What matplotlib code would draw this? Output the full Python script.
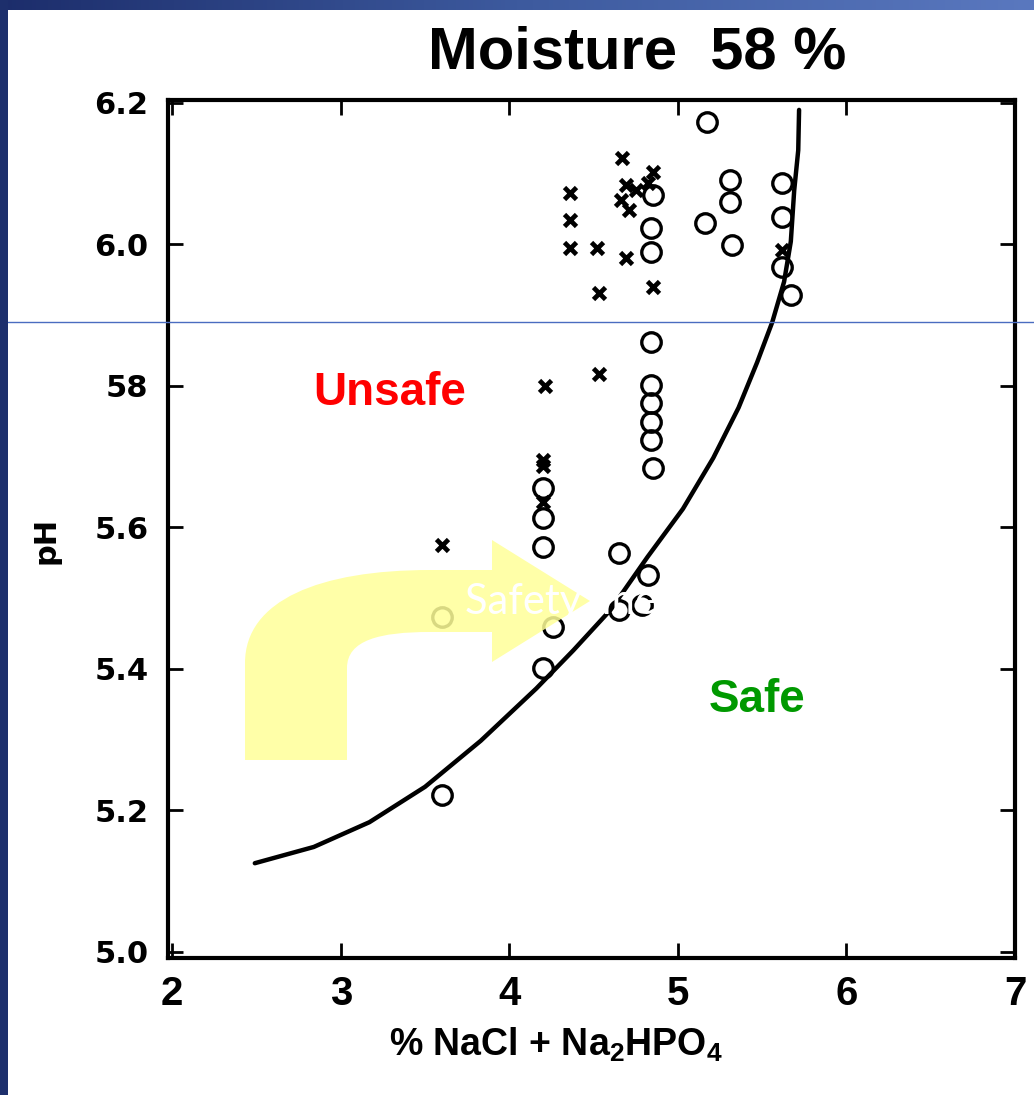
import numpy as np
import matplotlib
matplotlib.use("Agg")
import matplotlib.pyplot as plt
from matplotlib.path import Path
from matplotlib.patches import PathPatch, Rectangle
from matplotlib.lines import Line2D

# open circles (safe samples)
circ_x = [5.17, 5.31, 5.31, 5.16, 5.32, 5.62, 5.62, 5.62, 5.67,
          4.85, 4.84, 4.84, 4.84, 4.84, 4.84, 4.84, 4.84, 4.85,
          4.20, 4.20, 4.20, 4.65, 4.82, 4.65, 4.79, 4.26, 4.20, 3.60, 3.60]
circ_y = [6.173, 6.091, 6.060, 6.030, 5.999, 6.086, 6.039, 5.968, 5.929,
          6.069, 6.023, 5.989, 5.862, 5.801, 5.776, 5.749, 5.724, 5.684,
          5.656, 5.613, 5.572, 5.564, 5.533, 5.483, 5.490, 5.459, 5.401, 5.222, 5.473]

# crosses (unsafe samples)
cross_x = [3.60, 4.36, 4.36, 4.36, 4.52, 4.53, 4.53, 4.21, 4.20, 4.20, 4.20,
           4.67, 4.69, 4.85, 4.85, 4.69, 4.66, 4.71, 4.75, 4.82, 5.62]
cross_y = [5.575, 6.073, 6.035, 5.995, 5.995, 5.931, 5.816, 5.799, 5.695, 5.686, 5.635,
           6.122, 5.981, 5.939, 6.102, 6.084, 6.063, 6.049, 6.077, 6.087, 5.992]

# safety line
line_x = [2.49, 2.84, 3.17, 3.50, 3.83, 4.16, 4.38, 4.60, 4.82, 5.03,
          5.21, 5.36, 5.47, 5.56, 5.63, 5.67, 5.69, 5.714, 5.719]
line_y = [5.125, 5.148, 5.183, 5.233, 5.298, 5.372, 5.426, 5.483, 5.558, 5.626,
          5.698, 5.769, 5.833, 5.890, 5.947, 6.004, 6.076, 6.133, 6.190]

xticks = [2, 3, 4, 5, 6, 7]
yticks = [5.0, 5.2, 5.4, 5.6, 5.8, 6.0, 6.2]
ytick_labels = ["5.0", "5.2", "5.4", "5.6", "58", "6.0", "6.2"]

W, H = 1034, 1095
plt.rcParams["mathtext.default"] = "regular"

fig = plt.figure(figsize=(W / 100, H / 100), dpi=100)

def fx(px):
    return px / W

def fy(py):
    return 1 - py / H

ax = fig.add_axes([fx(168), fy(958), (1015 - 168) / W, (958 - 100) / H])
ax.plot(line_x, line_y, color="black", lw=3.2, solid_capstyle="round",
        solid_joinstyle="round", zorder=2)
ax.plot(circ_x, circ_y, "o", ms=14, mfc="none", mec="black", mew=2.4, zorder=3)
ax.plot(cross_x, cross_y, "x", ms=9, mec="black", mew=3.4, zorder=3)

ax.set_xlim(1.975, 7.0)
ax.set_ylim(4.991, 6.204)
ax.set_xticks(xticks)
ax.set_xticklabels([str(t) for t in xticks], family="Liberation Sans",
                   fontweight="bold", fontsize=29)
ax.set_yticks(yticks)
ax.set_yticklabels(ytick_labels, family="DejaVu Sans", fontweight="bold", fontsize=22)
ax.tick_params(direction="in", length=11, width=2, top=True, right=True, pad=14)
ax.tick_params(axis="x", pad=12)
for s in ax.spines.values():
    s.set_linewidth(3)

# title and axis labels
fig.text(fx(637), fy(53), "Moisture  58 %", family="Liberation Sans", fontweight="bold",
         fontsize=43, ha="center", va="center")
fig.text(fx(556), fy(1045), "% NaCl + Na$_2$HPO$_4$", family="Liberation Sans",
         fontweight="bold", fontsize=27, ha="center", va="center")
fig.text(fx(46), fy(540), "pH", family="DejaVu Sans", fontweight="bold",
         fontsize=22, rotation=90, ha="center", va="center")

fig.text(fx(390), fy(393), "Unsafe", color="#ff0000", family="Liberation Sans",
         fontweight="bold", fontsize=33, ha="center", va="center")
fig.text(fx(757), fy(700), "Safe", color="#009900", family="Liberation Sans",
         fontweight="bold", fontsize=33, ha="center", va="center")

# yellow bent arrow on top of the chart
pts = [(245, 760), (245, 663), (245, 600), (320, 570), (430, 570), (492, 570),
       (492, 540), (590, 601), (492, 662), (492, 632), (430, 632),
       (380, 632), (347, 640), (347, 668), (347, 760), (245, 760)]
codes = [Path.MOVETO, Path.LINETO, Path.CURVE4, Path.CURVE4, Path.CURVE4, Path.LINETO,
         Path.LINETO, Path.LINETO, Path.LINETO, Path.LINETO, Path.LINETO,
         Path.CURVE4, Path.CURVE4, Path.CURVE4, Path.LINETO, Path.CLOSEPOLY]
arrow = Path([(fx(x), fy(y)) for x, y in pts], codes)
fig.patches.append(PathPatch(arrow, transform=fig.transFigure, facecolor="#ffff99",
                             edgecolor="none", alpha=0.85, zorder=5))
fig.text(fx(465), fy(602), "Safety line", color="white", family="Lato",
         fontsize=30, ha="left", va="center", zorder=6)

# slide border and the stray guide line
grad = np.linspace(0, 1, 256).reshape(1, -1)
top = fig.add_axes([0, fy(10), 1, 10 / H])
top.imshow(grad, aspect="auto", cmap=matplotlib.colors.LinearSegmentedColormap.from_list(
    "b", ["#1c2d6b", "#3d5a9e", "#5a78bf"]))
top.axis("off")
fig.patches.append(Rectangle((0, 0), fx(8), 1, transform=fig.transFigure,
                             facecolor="#1d2f6c", edgecolor="none", zorder=7))
fig.lines.append(Line2D([fx(8), 1], [fy(322), fy(322)], transform=fig.transFigure,
                        color="#4a6cc0", lw=1, zorder=7))

fig.savefig("out.png", dpi=100)
